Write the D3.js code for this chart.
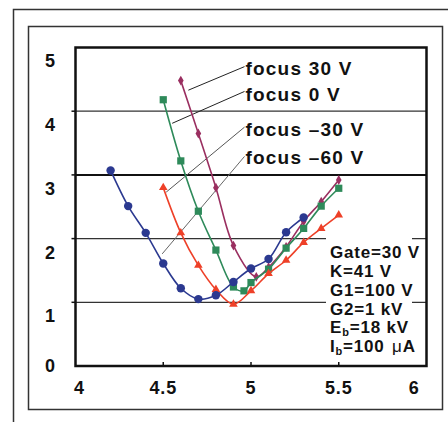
<!DOCTYPE html>
<html>
<head>
<meta charset="utf-8">
<script src="https://cdn.jsdelivr.net/npm/d3@7"></script>
<style>
  html, body { margin: 0; padding: 0; background: #fff; }
  svg { display: block; }
  text { font-family: "Liberation Sans", Arial, Helvetica, sans-serif; font-weight: bold; fill: #111; }
</style>
</head>
<body>
<svg id="chart" width="448" height="422"></svg>
<script>
// x ticks and y ticks
const xTicks = [4, 4.5, 5, 5.5, 6];
const yTicks = [0, 1, 2, 3, 4, 5];

// series: [x, y]
const focus30 = [[4.6, 4.48], [4.7, 3.65], [4.8, 2.80], [4.9, 1.89], [5.03, 1.40], [5.1, 1.55], [5.2, 1.87], [5.3, 2.27], [5.4, 2.58], [5.5, 2.92]];
const focus0 = [[4.5, 4.18], [4.6, 3.22], [4.7, 2.43], [4.8, 1.82], [4.9, 1.24], [4.96, 1.18], [5.0, 1.31], [5.1, 1.52], [5.2, 1.85], [5.3, 2.16], [5.4, 2.51], [5.5, 2.79]];
const focusM30 = [[4.5, 2.80], [4.6, 2.09], [4.7, 1.58], [4.8, 1.20], [4.9, 0.97], [5.0, 1.18], [5.1, 1.45], [5.2, 1.66], [5.3, 1.94], [5.4, 2.16], [5.5, 2.37]];
const focusM60 = [[4.2, 3.07], [4.3, 2.51], [4.4, 2.09], [4.5, 1.61], [4.6, 1.22], [4.7, 1.05], [4.8, 1.11], [4.9, 1.32], [5.0, 1.53], [5.1, 1.68], [5.2, 2.10], [5.3, 2.33]];

const seriesLabels = ['focus 30 V', 'focus 0 V', 'focus \u201330 V', 'focus \u201360 V'];
const conditions = ['Gate=30 V', 'K=41 V', 'G1=100 V', 'G2=1 kV', 'E|b|=18 kV', 'I|b|=100 |\u03bc|A'];

(function() {
  const svg = d3.select('#chart');

  // frames around the figure
  svg.append('path')
    .attr('d', 'M13.5,422 V9.5 H448')
    .attr('fill', 'none').attr('stroke', '#333').attr('stroke-width', 1.5);
  svg.append('rect')
    .attr('x', 28.5).attr('y', 26.5).attr('width', 414).attr('height', 383)
    .attr('fill', 'none').attr('stroke', '#333').attr('stroke-width', 1.5);

  const margin = { left: 75.5, right: 426.5, top: 47.5, bottom: 366 };
  const x = d3.scaleLinear().domain([4, 6]).range([margin.left, margin.right]);
  const y = d3.scaleLinear().domain([0, 5]).range([margin.bottom, margin.top]);

  // gridlines
  svg.append('g')
    .selectAll('line')
    .data(yTicks.filter(d => d > 0 && d < 5))
    .join('line')
    .attr('x1', margin.left).attr('x2', margin.right)
    .attr('y1', d => y(d)).attr('y2', d => y(d))
    .attr('stroke', d => d === 3 ? '#111' : '#333')
    .attr('stroke-width', d => d === 3 ? 2 : 1.2);

  // white box behind the conditions text
  svg.append('rect')
    .attr('x', 326).attr('y', 236).attr('width', 86).attr('height', 126)
    .attr('fill', '#fff');

  // y ticks (outward) and x ticks (inward)
  svg.append('g')
    .selectAll('line')
    .data(yTicks.filter(d => d > 0 && d < 5))
    .join('line')
    .attr('x1', margin.left - 4).attr('x2', margin.left)
    .attr('y1', d => y(d)).attr('y2', d => y(d))
    .attr('stroke', '#111').attr('stroke-width', 1.5);
  svg.append('g')
    .selectAll('line')
    .data(xTicks.filter(d => d > 4 && d < 6))
    .join('line')
    .attr('x1', d => x(d)).attr('x2', d => x(d))
    .attr('y1', margin.bottom).attr('y2', margin.bottom - 4)
    .attr('stroke', '#111').attr('stroke-width', 1.5);

  // tick labels
  svg.append('g')
    .selectAll('text')
    .data(yTicks)
    .join('text')
    .attr('x', 50)
    .attr('y', d => y(d) + (d === 0 ? 0 : 13.5))
    .attr('dy', '0.36em')
    .attr('text-anchor', 'middle')
    .style('font-size', '18px')
    .text(d => d);
  svg.append('g')
    .selectAll('text')
    .data(xTicks)
    .join('text')
    .attr('x', d => d === 4 ? x(d) - 1.5 : d === 6 ? x(d) - 7 : x(d))
    .attr('y', 394)
    .attr('text-anchor', d => d === 4 ? 'start' : d === 6 ? 'end' : 'middle')
    .style('font-size', '18px')
    .style('letter-spacing', '0.8px')
    .text(d => d);

  // leader lines from labels to curves (data coords)
  const leaders = [
    { from: [4.963, 4.70], to: [4.643, 4.33], color: '#222', ly: 68 },
    { from: [4.963, 4.31], to: [4.551, 3.81], color: '#222', ly: 94 },
    { from: [4.963, 3.75], to: [4.517, 2.73], color: '#555', ly: 129 },
    { from: [4.963, 3.29], to: [4.494, 1.76], color: '#666', ly: 157 }
  ];
  svg.append('g')
    .selectAll('line')
    .data(leaders)
    .join('line')
    .attr('x1', d => x(d.from[0])).attr('y1', d => y(d.from[1]))
    .attr('x2', d => x(d.to[0])).attr('y2', d => y(d.to[1]))
    .attr('stroke', d => d.color).attr('stroke-width', 1);
  svg.append('g')
    .selectAll('text')
    .data(seriesLabels)
    .join('text')
    .attr('x', (d, i) => x(leaders[i].from[0]) + 1)
    .attr('y', (d, i) => leaders[i].ly)
    .attr('dy', '0.36em')
    .style('font-size', '19px')
    .style('letter-spacing', '1.2px')
    .text(d => d);

  // curves
  const series = [
    { data: focus30, color: '#9a2f60', symbol: d3.symbolDiamond, size: 28 },
    { data: focus0, color: '#2e8a5a', symbol: d3.symbolSquare, size: 52 },
    { data: focusM30, color: '#ee4028', symbol: d3.symbolTriangle, size: 32 },
    { data: focusM60, color: '#2b3990', symbol: d3.symbolCircle, size: 56 }
  ];
  const line = d3.line()
    .x(d => x(d[0]))
    .y(d => y(d[1]))
    .curve(d3.curveCatmullRom.alpha(0.5));

  series.forEach(s => {
    const g = svg.append('g');
    g.append('path')
      .attr('d', line(s.data))
      .attr('fill', 'none')
      .attr('stroke', s.color)
      .attr('stroke-width', 1.6);
    g.selectAll('path.pt')
      .data(s.data)
      .join('path')
      .attr('class', 'pt')
      .attr('transform', d => `translate(${x(d[0])},${y(d[1])})`)
      .attr('d', d3.symbol().type(s.symbol).size(s.size))
      .attr('fill', s.color);
  });

  // plot border
  svg.append('rect')
    .attr('x', margin.left).attr('y', margin.top)
    .attr('width', margin.right - margin.left).attr('height', margin.bottom - margin.top)
    .attr('fill', 'none').attr('stroke', '#111').attr('stroke-width', 2.5);

  // conditions text, |b| parts are subscripts, |μ| is plain weight
  const cond = svg.append('g')
    .selectAll('text')
    .data(conditions)
    .join('text')
    .attr('x', 330)
    .attr('y', (d, i) => 252 + i * 18.8)
    .attr('dy', '0.36em')
    .style('font-size', '17px')
    .style('letter-spacing', '0.8px');
  cond.each(function(d) {
    const t = d3.select(this);
    d.split('|').forEach((part, i) => {
      if (!part) return;
      const span = t.append('tspan').text(part);
      if (i % 2 === 1) {
        if (part === 'b') {
          span.style('font-size', '11px').attr('baseline-shift', '-3');
        } else {
          span.style('font-weight', 'normal').attr('dx', 2);
        }
      }
    });
  });
})();
</script>
</body>
</html>
